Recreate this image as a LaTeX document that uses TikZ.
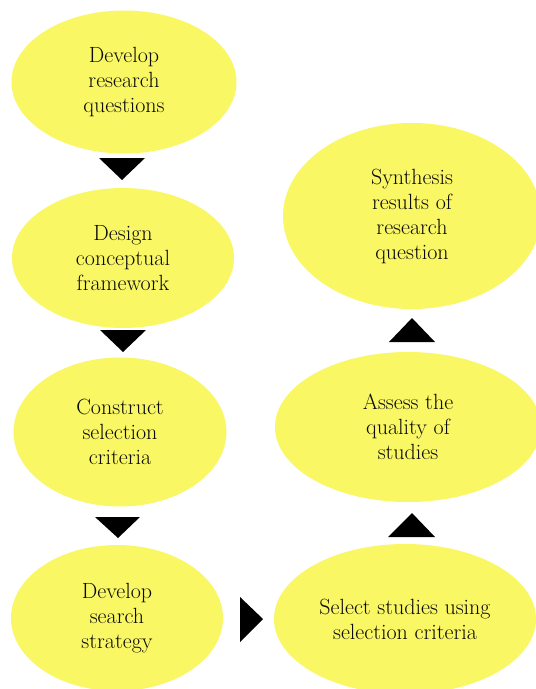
\documentclass[tikz,border=0pt]{standalone}
\usetikzlibrary{shapes.geometric}
\definecolor{ellfill}{RGB}{250,247,100}
\definecolor{txtcol}{RGB}{10,10,10}
\begin{document}
\begin{tikzpicture}[x=1pt,y=-1pt,
  stepell/.style={ellipse, fill=ellfill, inner sep=0pt, align=center, text=txtcol,
    font=\fontsize{22}{25}\selectfont},
  arrowtri/.style={fill=black}]
\useasboundingbox (0,0) rectangle (536,689);
\clip (0,0) rectangle (536,689);
\fill[white] (0,0) rectangle (536,689);
% left column
\node[stepell, minimum width=225pt, minimum height=143pt] (e1) at (124,82) {Develop\\research\\questions};
\node[stepell, minimum width=222pt, minimum height=140pt] (e2) at (123,258) {Design\\conceptual\\framework};
\node[stepell, minimum width=213pt, minimum height=149pt] (e3) at (120,432) {Construct\\selection\\criteria};
\node[stepell, minimum width=212pt, minimum height=146pt] (e4) at (117,618) {Develop\\search\\strategy};
% right column
\node[stepell, minimum width=262pt, minimum height=150pt] (e5) at (405,619) {Select studies using\\selection criteria};
\node[stepell, minimum width=266pt, minimum height=150pt] (e6) at (408,427) {Assess the\\quality of\\studies};
\node[stepell, minimum width=258pt, minimum height=186pt] (e7) at (412,216) {Synthesis\\results of\\research\\question};
% arrows
\fill[arrowtri] (99,158) -- (145,158) -- (122,180) -- cycle;
\fill[arrowtri] (100,330) -- (146,330) -- (123,352) -- cycle;
\fill[arrowtri] (95,517) -- (140,517) -- (118,538) -- cycle;
\fill[arrowtri] (240,597) -- (240,642) -- (263,619) -- cycle;
\fill[arrowtri] (388,537) -- (435,537) -- (412,513) -- cycle;
\fill[arrowtri] (389,342) -- (435,342) -- (412,318) -- cycle;
\end{tikzpicture}
\end{document}
